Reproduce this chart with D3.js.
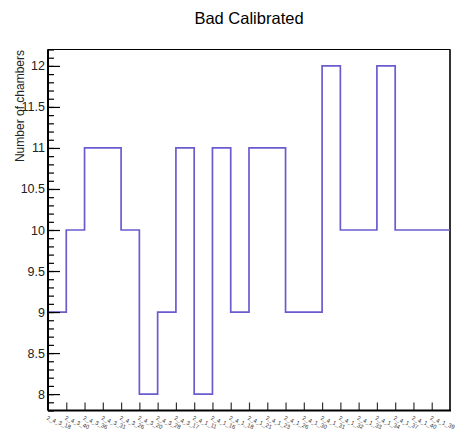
<!DOCTYPE html>
<html><head><meta charset="utf-8">
<script src="https://cdn.jsdelivr.net/npm/d3@7/dist/d3.min.js"></script>
<style>body{margin:0;background:#fff}svg{display:block}</style>
</head><body>
<svg id="c" width="456" height="431"></svg>
<script>
const chartTitle = "Bad Calibrated";
const yTitle = "Number of chambers";
const categories = ["2_4_3_18","2_4_3_40","2_4_3_36","2_4_3_31","2_4_3_26","2_4_3_20","2_4_3_28","2_4_3_17","2_4_1_11","2_4_1_16","2_4_1_18","2_4_1_21","2_4_1_23","2_4_1_26","2_4_1_30","2_4_1_31","2_4_1_32","2_4_1_33","2_4_1_34","2_4_1_37","2_4_1_40","2_4_1_39"];
const values = [9,10,11,11,10,8,9,11,8,11,9,11,11,9,9,12,10,10,12,10,10,10];
const yMajorTicks = [8,8.5,9,9.5,10,10.5,11,11.5,12];

const svg = d3.select("#c");
const L=48, R=450, T=49.5, B=410.5;
const x = d3.scaleLinear().domain([0, categories.length]).range([L, R]);
const y = d3.scaleLinear().domain([7.8, 12.2]).range([B, T]);

// title
svg.append("text").attr("x", 249).attr("y", 24).attr("text-anchor","middle")
  .attr("font-family","Liberation Sans, Arial, sans-serif").attr("font-size",16.5)
  .attr("fill","#000").text(chartTitle);

// frame
svg.append("rect").attr("x",L).attr("y",T).attr("width",R-L).attr("height",B-T)
  .attr("fill","none").attr("stroke","#000").attr("stroke-width",1);
svg.append("line").attr("x1",R).attr("x2",R).attr("y1",T).attr("y2",B)
  .attr("stroke","#333").attr("stroke-width",2);

// histogram step line
const pts = values.map((v,i)=>[i,v]);
pts.push([values.length, values[values.length-1]]);
svg.append("path").datum(pts)
  .attr("d", d3.line().x(d=>x(d[0])).y(d=>y(d[1])).curve(d3.curveStepAfter))
  .attr("fill","none").attr("stroke","#6a5cd0").attr("stroke-width",1.7);

// y axis minor ticks
const minor = d3.range(78, 123).map(v=>v/10);
const gMin = svg.append("g").attr("transform",`translate(${L},0)`)
  .call(d3.axisLeft(y).tickValues(minor).tickSize(-6).tickFormat(""));
gMin.select(".domain").remove();
gMin.selectAll("line").attr("stroke","#000").attr("stroke-width",1.2);
// y axis major ticks
const gMaj = svg.append("g").attr("transform",`translate(${L},0)`)
  .call(d3.axisLeft(y).tickValues(yMajorTicks).tickSize(-12).tickPadding(3).tickFormat(d3.format("~g")));
gMaj.select(".domain").remove();
gMaj.selectAll("line").attr("stroke","#000").attr("stroke-width",1.2);
gMaj.selectAll("text").attr("font-family","Liberation Sans, Arial, sans-serif")
  .attr("font-size",12.5).attr("fill","#222");
svg.append("line").attr("x1",L).attr("x2",L).attr("y1",T).attr("y2",B)
  .attr("stroke","#000").attr("stroke-width",2);

// y title
svg.append("text").attr("transform",`translate(24,50) rotate(-90)`).attr("text-anchor","end")
  .attr("font-family","Liberation Sans, Arial, sans-serif").attr("font-size",12)
  .attr("fill","#222").text(yTitle);

// x axis
const edges = d3.range(1, categories.length);
const gx = svg.append("g").attr("transform",`translate(0,${B})`)
  .call(d3.axisBottom(x).tickValues(edges).tickSize(-8).tickFormat(""));
gx.select(".domain").remove();
gx.selectAll("line").attr("stroke","#333").attr("stroke-width",1.2);
svg.append("line").attr("x1",L).attr("x2",R+1).attr("y1",B).attr("y2",B)
  .attr("stroke","#000").attr("stroke-width",2);

svg.append("g").selectAll("text").data(categories).join("text")
  .attr("transform",(d,i)=>`translate(${x(i+0.5)-11},${B+9}) rotate(22)`)
  .attr("font-family","Liberation Sans, Arial, sans-serif").attr("font-size",5.8)
  .attr("fill","#333").text(d=>d);
</script>
</body></html>
